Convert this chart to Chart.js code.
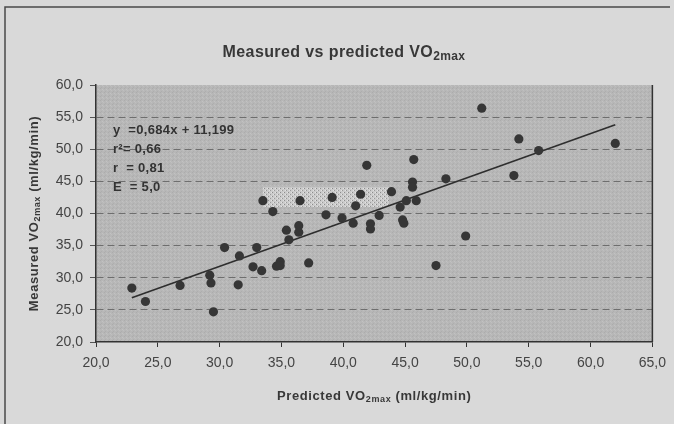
<!DOCTYPE html>
<html>
<head>
<meta charset="utf-8">
<script src="https://cdn.jsdelivr.net/npm/chart.js@4/dist/chart.umd.min.js"></script>
<style>
  html, body { margin: 0; padding: 0; background: #d9d9d9; }
  #wrap { width: 674px; height: 424px; }
</style>
</head>
<body>
<div id="wrap"><canvas id="vo2Chart" width="674" height="424"></canvas></div>
<script>
// Measured vs predicted VO2max scatter with regression line

const predicted = [22.9, 24.0, 26.8, 29.2, 29.3, 29.5, 30.4, 31.5, 31.6, 32.7,
    33.0, 33.4, 34.6, 34.9, 34.9, 35.4, 35.6, 36.4, 36.4, 37.2,
    33.5, 34.3, 36.5, 38.6, 39.1, 39.9, 40.8, 41.0, 41.4, 41.9,
    42.2, 42.2, 42.9, 43.9, 44.6, 44.8, 44.9, 45.1, 45.6, 45.6,
    45.7, 45.9, 47.5, 48.3, 49.9, 51.2, 53.8, 54.2, 55.8, 62.0];
const measured = [28.4, 26.3, 28.8, 30.4, 29.2, 24.7, 34.7, 28.9, 33.4, 31.7,
    34.7, 31.1, 31.8, 32.5, 31.9, 37.4, 35.9, 38.1, 37.1, 32.3,
    42.0, 40.3, 42.0, 39.8, 42.5, 39.3, 38.5, 41.2, 43.0, 47.5,
    38.4, 37.6, 39.7, 43.4, 41.0, 39.0, 38.5, 42.0, 44.9, 44.1,
    48.4, 42.0, 31.9, 45.4, 36.5, 56.4, 45.9, 51.6, 49.8, 50.9];

// regression line end points (as drawn)
const trendX = [22.9, 62.0];
const trendY = [26.9, 53.8];

// stippled band behind the points
const bandX = [33.5, 43.7];
const bandY = [41.0, 44.1];

const xTickValues = [20, 25, 30, 35, 40, 45, 50, 55, 60, 65];
const xTickLabels = ['20,0', '25,0', '30,0', '35,0', '40,0', '45,0', '50,0', '55,0', '60,0', '65,0'];
const yTickValues = [20, 25, 30, 35, 40, 45, 50, 55, 60];
const yTickLabels = ['20,0', '25,0', '30,0', '35,0', '40,0', '45,0', '50,0', '55,0', '60,0'];

const statLines = ['y  =0,684x + 11,199', 'r\u00B2= 0,66', 'r  = 0,81', 'E  = 5,0'];

const FONT = '"Liberation Sans", Arial, Helvetica, sans-serif';
const INK = '#383838';

function makePattern(base, dots, size) {
    const c = document.createElement('canvas');
    c.width = size; c.height = size;
    const g = c.getContext('2d');
    g.fillStyle = base;
    g.fillRect(0, 0, size, size);
    dots.forEach(d => {
        g.fillStyle = d[2];
        g.fillRect(d[0], d[1], 1, 1);
    });
    return c;
}

// draws "VO" + subscript "2max" inside a text run
function drawSubText(ctx, parts, x, y, size, align) {
    const big = 'bold ' + size + 'px ' + FONT;
    const small = 'bold ' + Math.round(size * 0.72) + 'px ' + FONT;
    let total = 0;
    parts.forEach(p => { ctx.font = p.sub ? small : big; total += ctx.measureText(p.t).width; });
    let cx = align === 'center' ? x - total / 2 : x;
    ctx.textAlign = 'left';
    ctx.textBaseline = 'alphabetic';
    parts.forEach(p => {
        ctx.font = p.sub ? small : big;
        ctx.fillText(p.t, cx, p.sub ? y + size * 0.18 : y);
        cx += ctx.measureText(p.t).width;
    });
}

const decorPlugin = {
    id: 'decor',
    beforeDraw(chart) {
        const {ctx, chartArea: a} = chart;
        ctx.save();
        ctx.fillStyle = '#d9d9d9';
        ctx.fillRect(0, 0, chart.width, chart.height);
        // outer frame
        ctx.strokeStyle = '#4a4a4a';
        ctx.lineWidth = 1.5;
        ctx.beginPath();
        ctx.moveTo(5, chart.height);
        ctx.lineTo(5, 7);
        ctx.lineTo(670, 7);
        ctx.stroke();
        // plot area with a light grain
        const grain = makePattern('#b7b7b7', [[0, 0, '#acacac'], [2, 1, '#c2c2c2'], [1, 3, '#aeaeae'], [3, 2, '#bfbfbf']], 4);
        ctx.fillStyle = ctx.createPattern(grain, 'repeat');
        ctx.fillRect(a.left, a.top, a.right - a.left, a.bottom - a.top);
        ctx.restore();
    },
    beforeDatasetsDraw(chart) {
        const {ctx} = chart;
        const xs = chart.scales.x, ys = chart.scales.y;
        const x0 = xs.getPixelForValue(bandX[0]), x1 = xs.getPixelForValue(bandX[1]);
        const y0 = ys.getPixelForValue(bandY[1]), y1 = ys.getPixelForValue(bandY[0]);
        const stip = makePattern('#cbcbcb', [[0, 0, '#8c8c8c'], [2, 2, '#9a9a9a'], [3, 0, '#e2e2e2'], [1, 2, '#e2e2e2']], 4);
        ctx.save();
        ctx.fillStyle = ctx.createPattern(stip, 'repeat');
        ctx.fillRect(x0, y0, x1 - x0, y1 - y0);
        ctx.restore();
    },
    afterDraw(chart) {
        const {ctx, chartArea: a} = chart;
        ctx.save();
        // right edge of plot
        ctx.strokeStyle = '#333';
        ctx.lineWidth = 1.5;
        ctx.beginPath();
        ctx.moveTo(a.right, a.top);
        ctx.lineTo(a.right, a.bottom);
        ctx.stroke();

        ctx.fillStyle = INK;
        ctx.letterSpacing = '0.4px';
        drawSubText(ctx, [{t: 'Measured vs predicted VO'}, {t: '2max', sub: true}], 344, 57, 16, 'center');
        ctx.letterSpacing = '0.6px';
        drawSubText(ctx, [{t: 'Predicted VO'}, {t: '2max', sub: true}, {t: ' (ml/kg/min)'}], (a.left + a.right) / 2, 400, 13, 'center');
        ctx.save();
        ctx.translate(38, (a.top + a.bottom) / 2);
        ctx.rotate(-Math.PI / 2);
        drawSubText(ctx, [{t: 'Measured VO'}, {t: '2max', sub: true}, {t: ' (ml/kg/min)'}], 0, 0, 13, 'center');
        ctx.restore();

        // regression statistics
        ctx.font = 'bold 13px ' + FONT;
        ctx.letterSpacing = '0.3px';
        ctx.textAlign = 'left';
        ctx.textBaseline = 'middle';
        ctx.fillStyle = '#333333';
        statLines.forEach((s, i) => ctx.fillText(s, a.left + 17, 130 + i * 19.3));
        ctx.restore();
    }
};

function initChart() {
    const ctx = document.getElementById('vo2Chart').getContext('2d');
    new Chart(ctx, {
        type: 'scatter',
        data: {
            datasets: [
                {
                    type: 'scatter',
                    data: predicted.map((v, i) => ({x: v, y: measured[i]})),
                    backgroundColor: '#363636',
                    borderWidth: 0,
                    pointRadius: 4.6,
                    order: 1
                },
                {
                    type: 'line',
                    data: trendX.map((v, i) => ({x: v, y: trendY[i]})),
                    borderColor: '#2e2e2e',
                    borderWidth: 1.6,
                    pointRadius: 0,
                    fill: false,
                    tension: 0,
                    order: 2
                }
            ]
        },
        options: {
            responsive: false,
            animation: false,
            layout: { padding: { top: 85, right: 21, bottom: 0, left: 0 } },
            plugins: { legend: { display: false }, tooltip: { enabled: false }, title: { display: false } },
            scales: {
                x: {
                    type: 'linear',
                    min: 20,
                    max: 65,
                    afterBuildTicks: s => { s.ticks = xTickValues.map(v => ({value: v})); },
                    afterFit: s => { s.height = 82; },
                    ticks: {
                        callback: (v, i) => xTickLabels[i],
                        font: { size: 14, family: FONT },
                        color: '#444',
                        padding: 8,
                        maxRotation: 0,
                        autoSkip: false
                    },
                    grid: { drawOnChartArea: false, tickLength: 5, color: '#333' },
                    border: { color: '#333', width: 1.5 }
                },
                y: {
                    type: 'linear',
                    min: 20,
                    max: 60,
                    afterBuildTicks: s => { s.ticks = yTickValues.map(v => ({value: v})); },
                    afterFit: s => { s.width = 96; },
                    ticks: {
                        callback: (v, i) => yTickLabels[i],
                        font: { size: 14, family: FONT },
                        color: '#444',
                        padding: 7
                    },
                    grid: {
                        color: c => (c.tick && (c.tick.value === 20 || c.tick.value === 60)) ? 'rgba(0,0,0,0)' : '#6e6e6e',
                        tickColor: '#555',
                        tickLength: 6,
                        lineWidth: 1
                    },
                    border: { color: '#333', width: 1.5, dash: [7, 4] }
                }
            }
        },
        plugins: [decorPlugin]
    });
}

initChart();
</script>
</body>
</html>
